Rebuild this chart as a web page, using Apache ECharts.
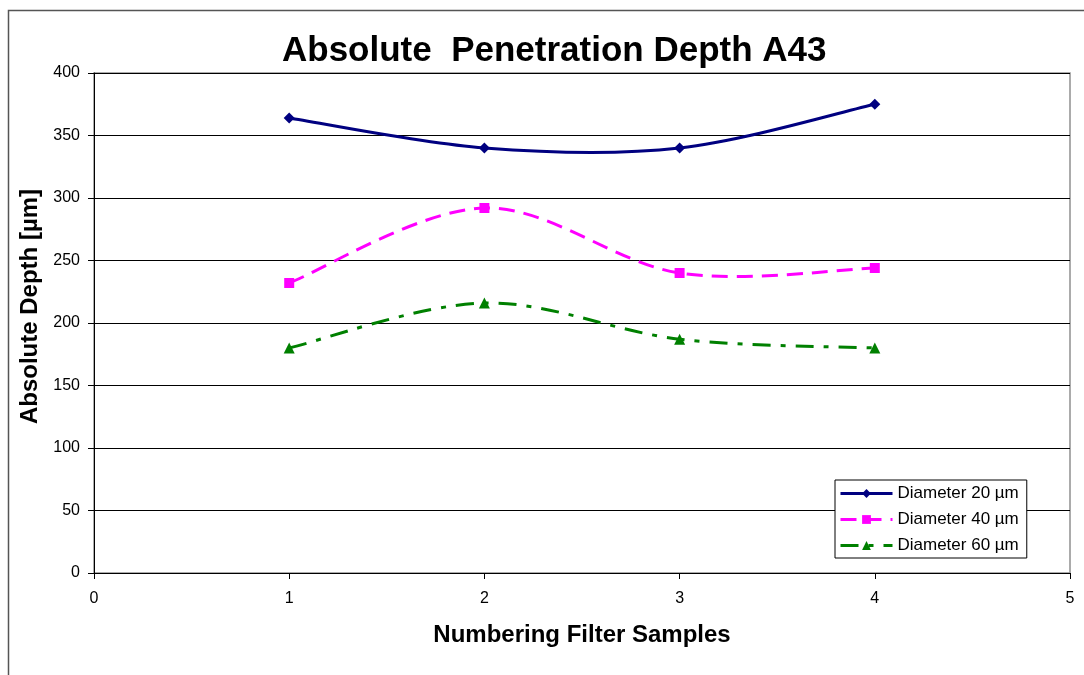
<!DOCTYPE html>
<html>
<head>
<meta charset="utf-8">
<script src="https://cdn.jsdelivr.net/npm/echarts@6/dist/echarts.min.js"></script>
<style>
  html, body { margin: 0; padding: 0; background: #fff; }
  #chart { width: 1084px; height: 675px; }
</style>
</head>
<body>
<div id="chart"></div>
<script>
// Sample numbers on the x axis
const samples = [1, 2, 3, 4];
// Absolute penetration depth (µm) per filter diameter
const depth20 = [364, 340, 340, 375];
const depth40 = [232, 292, 240, 244];
const depth60 = [180, 216, 187, 180];
const seriesNames = ['Diameter 20 µm', 'Diameter 40 µm', 'Diameter 60 µm'];

const font = '"Liberation Sans", Arial, sans-serif';
const pair = (ys) => samples.map((x, i) => [x, ys[i]]);

// Line styles per series
const looks = [
  { color: '#000080', dash: 'solid', symbol: 'diamond', size: 11 },
  { color: '#ff00ff', dash: [16, 9], symbol: 'rect', size: 10 },
  { color: '#008000', dash: [18, 10, 5, 10], symbol: 'triangle', size: 11 }
];
const LINE_W = 3;

// Cardinal-spline (1/6 tangent) Bezier through the points, in pixel space
function curvePath(api, ys) {
  const p = samples.map((x, i) => api.coord([x, ys[i]]));
  let d = 'M' + p[0][0] + ',' + p[0][1];
  for (let i = 0; i < p.length - 1; i++) {
    const p0 = p[i - 1] || p[i];
    const p1 = p[i];
    const p2 = p[i + 1];
    const p3 = p[i + 2] || p[i + 1];
    const c1 = [p1[0] + (p2[0] - p0[0]) / 6, p1[1] + (p2[1] - p0[1]) / 6];
    const c2 = [p2[0] - (p3[0] - p1[0]) / 6, p2[1] - (p3[1] - p1[1]) / 6];
    d += ' C' + c1[0] + ',' + c1[1] + ' ' + c2[0] + ',' + c2[1] + ' ' + p2[0] + ',' + p2[1];
  }
  return d;
}

const allDepths = [depth20, depth40, depth60];

const curveSeries = allDepths.map((ys, k) => ({
  name: 'curve-' + k,
  type: 'custom',
  coordinateSystem: 'cartesian2d',
  data: pair(ys),
  encode: { x: 0, y: 1 },
  silent: true,
  z: 2,
  renderItem: function (params, api) {
    if (params.dataIndex !== 0) return null;
    return {
      type: 'path',
      shape: { pathData: curvePath(api, ys) },
      style: {
        fill: 'none',
        stroke: looks[k].color,
        lineWidth: LINE_W,
        lineDash: looks[k].dash === 'solid' ? null : looks[k].dash,
        lineCap: 'butt',
        lineJoin: 'round'
      }
    };
  }
}));

const markerSeries = allDepths.map((ys, k) => ({
  name: seriesNames[k],
  type: 'line',
  data: pair(ys),
  symbol: looks[k].symbol,
  symbolSize: looks[k].size,
  showSymbol: true,
  z: 3,
  itemStyle: { color: looks[k].color },
  lineStyle: { color: looks[k].color, width: LINE_W, type: looks[k].dash, opacity: 0 }
}));

const chart = echarts.init(document.getElementById('chart'), null, { renderer: 'canvas' });

chart.setOption({
  backgroundColor: '#ffffff',
  animation: false,
  textStyle: { fontFamily: font },
  title: {
    text: 'Absolute  Penetration Depth A43',
    left: 277,
    top: 29,
    textStyle: { fontFamily: font, fontSize: 35, fontWeight: 'bold', color: '#000' }
  },
  graphic: [{
    type: 'rect',
    shape: { x: 8.5, y: 10.5, width: 1100, height: 700 },
    style: { fill: null, stroke: '#555', lineWidth: 1.5 },
    silent: true,
    z: -1
  }],
  grid: {
    left: 94, right: 14, top: 73, bottom: 102,
    show: true,
    borderColor: '#909090',
    borderWidth: 1.5,
    backgroundColor: '#fff'
  },
  legend: {
    orient: 'vertical',
    left: 835,
    top: 480,
    padding: [5, 8, 4, 4],
    itemGap: 9,
    itemWidth: 52,
    itemHeight: 11,
    backgroundColor: '#fff',
    borderColor: '#000',
    borderWidth: 1,
    textStyle: { fontFamily: font, fontSize: 17, color: '#000' },
    data: seriesNames.map((n, k) => ({
      name: n,
      lineStyle: { opacity: 1, width: LINE_W, type: looks[k].dash, color: looks[k].color }
    }))
  },
  xAxis: {
    type: 'value',
    min: 0, max: 5, interval: 1,
    name: 'Numbering Filter Samples',
    nameLocation: 'middle',
    nameGap: 50,
    nameTextStyle: { fontFamily: font, fontSize: 24, fontWeight: 'bold', color: '#000' },
    axisLine: { lineStyle: { color: '#000', width: 1 } },
    axisTick: { show: true, inside: false, length: 6, lineStyle: { color: '#000' } },
    axisLabel: { fontFamily: font, fontSize: 16, color: '#000', margin: 18 },
    splitLine: { show: false }
  },
  yAxis: {
    type: 'value',
    min: 0, max: 400, interval: 50,
    name: 'Absolute Depth [µm]',
    nameLocation: 'middle',
    nameGap: 51,
    nameTextStyle: { fontFamily: font, fontSize: 24, fontWeight: 'bold', color: '#000', padding: [0, 0, 0, 33] },
    axisLine: { show: true, lineStyle: { color: '#000', width: 1 } },
    axisTick: { show: true, inside: false, length: 6, lineStyle: { color: '#000' } },
    axisLabel: { fontFamily: font, fontSize: 16, color: '#000', margin: 14 },
    splitLine: { show: true, lineStyle: { color: '#000', width: 1 } }
  },
  series: curveSeries.concat(markerSeries)
});
</script>
</body>
</html>
